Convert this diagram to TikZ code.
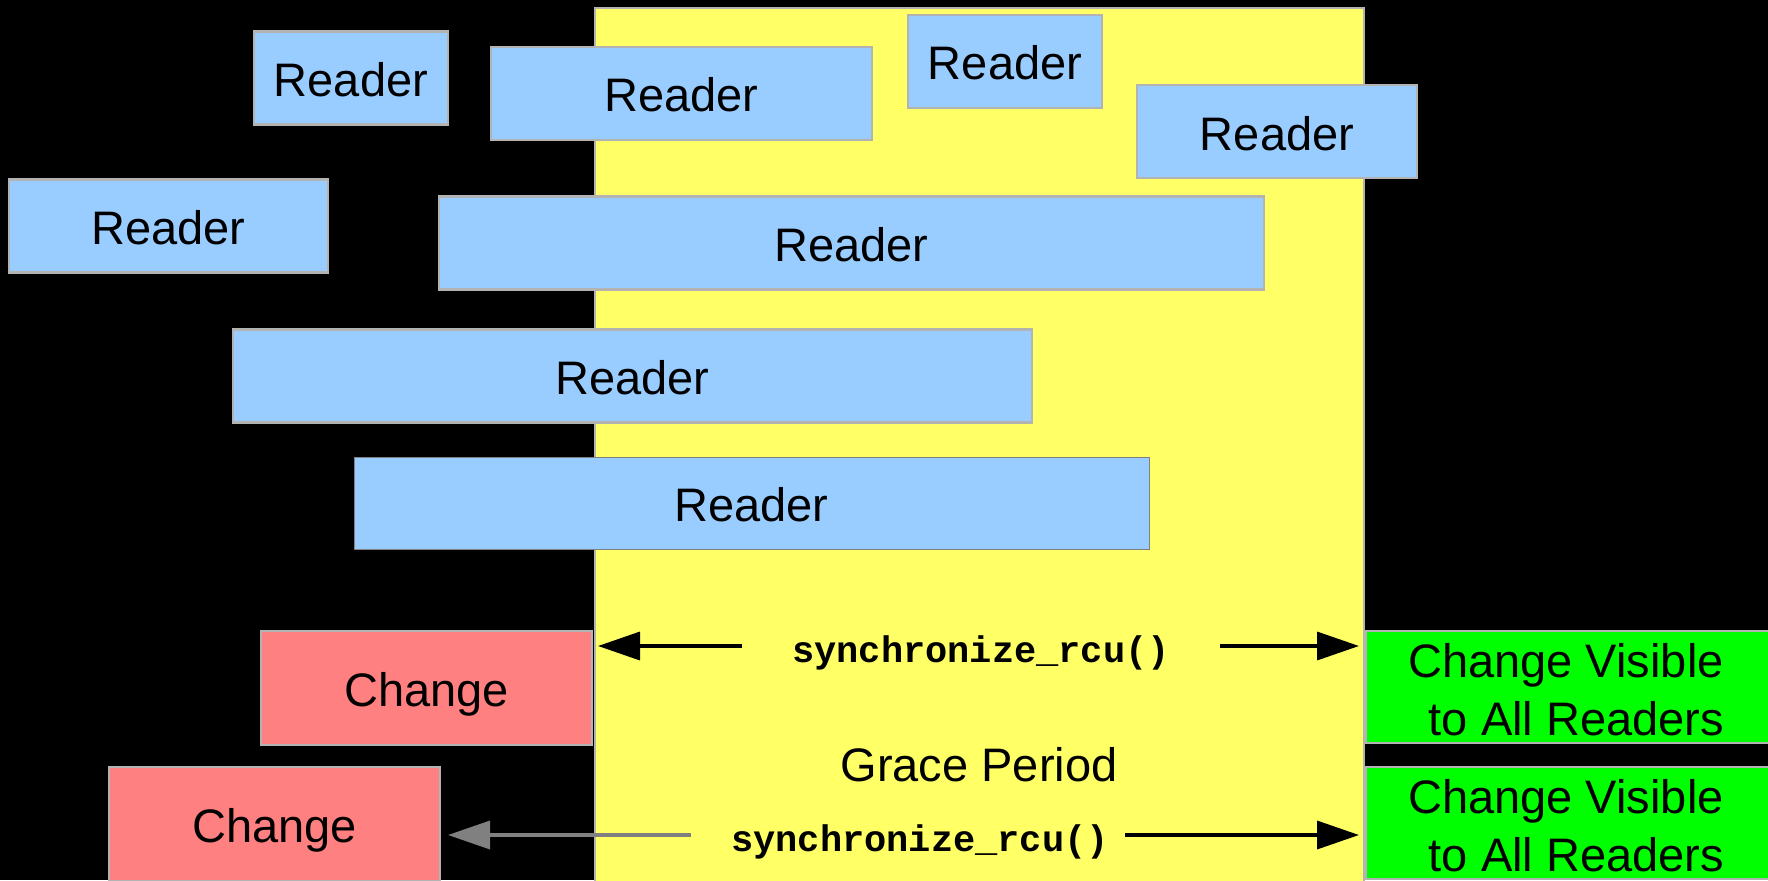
\documentclass[tikz,border=0pt]{standalone}
\usepackage{fontspec}
\setmainfont{Liberation Sans}
\newfontfamily\codefont{Liberation Mono}
\usetikzlibrary{arrows.meta}
\definecolor{readerblue}{HTML}{99CCFF}
\definecolor{gpyellow}{HTML}{FFFF66}
\definecolor{chred}{HTML}{FF8080}
\definecolor{visgreen}{HTML}{00FF00}
\definecolor{edgegray}{HTML}{B3B3B3}
\definecolor{arrowgray}{HTML}{808080}
\tikzset{
  box/.style={rectangle, draw=edgegray, line width=2.5pt, inner sep=0pt,
    font=\fontsize{47}{58}\selectfont, text=black},
  readerbox/.style={box, fill=readerblue, minimum height=93pt, text height=37pt, text depth=0pt},
  changebox/.style={box, fill=chred, minimum width=331pt, minimum height=114pt, text height=37pt, text depth=0pt},
  visbox/.style={box, fill=visgreen, minimum width=424pt, minimum height=112pt, align=center},
  codelabel/.style={inner sep=0pt, anchor=base, font=\codefont\bfseries\fontsize{37}{44}\selectfont},
  syncarrow/.style={line width=3.5pt, -{Triangle[length=42pt,width=28pt]}},
}
\begin{document}
\begin{tikzpicture}[x=1pt,y=-1pt]
\path[use as bounding box, fill=black] (0,0) rectangle (1768,880);
% grace period
\node[box, fill=gpyellow, minimum width=769pt, minimum height=882pt] (gp) at (979.5,449) {};
% readers
\node[readerbox, minimum width=194pt] (r1) at (351,78) {Reader};
\node[readerbox, minimum width=381pt] (r2) at (681.5,93.5) {Reader};
\node[readerbox, minimum width=194pt] (r3) at (1005,61.5) {Reader};
\node[readerbox, minimum width=280pt] (r4) at (1277,131.5) {Reader};
\node[readerbox, minimum width=319pt] (r5) at (168.5,226) {Reader};
\node[readerbox, minimum width=825pt] (r6) at (851.5,243) {Reader};
\node[readerbox, minimum width=799pt] (r7) at (632.5,376) {Reader};
\node[readerbox, minimum width=795pt, minimum height=92pt, draw=arrowgray, line width=1pt] (r8) at (751.5,503) {Reader};
% changes
\node[changebox] (c1) at (426.5,688) {Change};
\node[changebox] (c2) at (274.5,824) {Change};
% visible
\node[visbox] (v1) at (1578,687) {\rule{0pt}{39pt}\hspace*{-24pt}Change Visible\\\hspace*{-3pt}to All Readers};
\node[visbox] (v2) at (1578,823) {\rule{0pt}{39pt}\hspace*{-24pt}Change Visible\\\hspace*{-3pt}to All Readers};
% labels
\node[codelabel] (s1) at (981,662) {synchronize\_rcu()};
\node[codelabel] (s2) at (920,851) {synchronize\_rcu()};
\node[inner sep=0pt, anchor=base, font=\fontsize{47}{58}\selectfont] (gpl) at (979,781) {Grace Period};
% arrow endpoints
\coordinate (a1s) at (742,646);
\coordinate (a1e) at (598,646);
\coordinate (a2s) at (1220,646);
\coordinate (a2e) at (1359,646);
\coordinate (a3s) at (691,835);
\coordinate (a3e) at (448,835);
\coordinate (a4s) at (1125,835);
\coordinate (a4e) at (1359,835);
\draw[syncarrow] (a1s) -- (a1e);
\draw[syncarrow] (a2s) -- (a2e);
\draw[syncarrow, draw=arrowgray, fill=arrowgray] (a3s) -- (a3e);
\draw[syncarrow] (a4s) -- (a4e);
\end{tikzpicture}
\end{document}
